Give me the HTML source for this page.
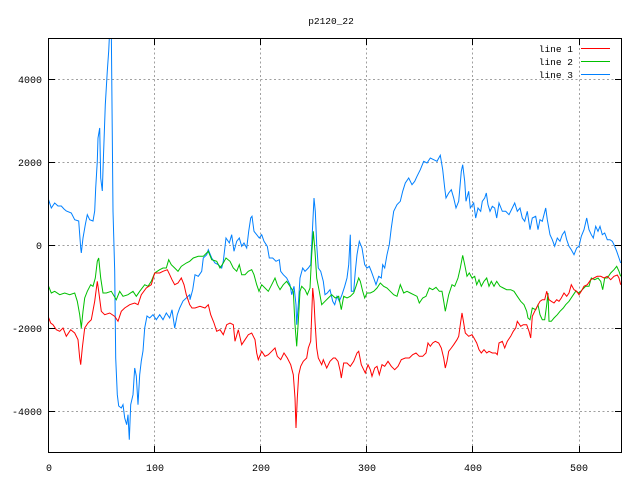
<!DOCTYPE html>
<html>
<head>
<meta charset="utf-8">
<style>
html,body{margin:0;padding:0;background:#fff;}
svg{display:block;}
text{font-family:"Liberation Mono","DejaVu Sans Mono",monospace;fill:#000;}
</style>
</head>
<body>
<svg width="640" height="480" viewBox="0 0 640 480" xmlns="http://www.w3.org/2000/svg">
<defs>
<clipPath id="pa"><rect x="48.5" y="38.5" width="573" height="414"/></clipPath>
</defs>
<rect width="640" height="480" fill="#fff"/>
<text x="331" y="24" font-size="9.5" text-anchor="middle">p2120_22</text>

<!-- grid -->
<g stroke="#a0a0a0" stroke-width="1" stroke-dasharray="2,2.5" shape-rendering="crispEdges" fill="none">
<line x1="49" y1="79.5" x2="621" y2="79.5"/>
<line x1="49" y1="162.5" x2="621" y2="162.5"/>
<line x1="49" y1="245.5" x2="621" y2="245.5"/>
<line x1="49" y1="328.5" x2="621" y2="328.5"/>
<line x1="49" y1="411.5" x2="621" y2="411.5"/>
<line x1="154.5" y1="39" x2="154.5" y2="452"/>
<line x1="260.5" y1="39" x2="260.5" y2="452"/>
<line x1="366.5" y1="39" x2="366.5" y2="452"/>
<line x1="472.5" y1="39" x2="472.5" y2="452"/>
<line x1="579.5" y1="39" x2="579.5" y2="452"/>
</g>

<!-- series -->
<g clip-path="url(#pa)" fill="none" stroke-width="1" stroke-linejoin="miter">
<polyline stroke="#0080ff" points="48,198 51.3,208 54.7,203 58,206 61.3,206 64,209 66.3,211 71.3,213 74.7,219.7 78.7,221 80.7,248 81.3,253 83,238 85.3,224.7 87.3,214.7 89.7,219.7 93,221 94.7,211 95.7,188 97.3,161 98,138 99.7,128 100.7,178 102.3,191 103.3,161 105.3,104.7 107.3,71 108.7,51 109.7,30 111.3,30 113,211 114.7,271 115.7,358 117.3,394.7 118.7,406 121.3,408 123,404.7 124.7,418 126.7,424.7 128,414.7 129.3,439.7 130.7,404.7 133,394.7 134.7,368 136.3,376 138,404.7 139.7,374.7 141.3,361 143,351 144.7,328 147,316 149.7,318 153,314.7 156.3,319.7 159.7,314.7 163,319.7 166.3,313 169.7,318 172,309.7 174.7,328 177.3,314.7 179.7,308 183,301 186.3,298 189.7,294.7 190,299.7 192.7,289.7 195,274.7 198.3,276.3 201.7,271.3 203.3,258 206.7,254.7 208.3,249.7 211.7,258 215,263 218.3,264.7 221.7,268 223.3,261.3 226,238 229.3,243 231.7,234.7 234,251.3 236.7,241.3 239.3,238 241.7,246.3 244,243 246.7,248 248.7,231.3 250.7,218 252,216.3 254,231.3 256.7,234.7 259.3,238 261.7,234.7 264,241.3 267.3,246.3 269.3,258 272.7,258 276,261.3 279.3,259.7 280.7,271.3 283.3,274.7 286.7,278 290,284.7 291.7,294.7 294,286.3 296,304.7 296.7,324.7 298.3,304.7 300,278 302.7,268 305,271.3 308.3,268 310.7,264.7 312.7,224.7 314,198 315.3,211.3 316.7,244.7 318.3,268 320.7,271.3 323.3,281.3 325,294.7 327.3,293 330,289.7 332.7,301.3 334.7,304.7 337,296.3 339.3,301.3 342,294.7 344.7,286.3 347,278 348.7,264.7 350.3,234.7 351.3,291.3 353.7,291.3 355.3,271.3 357,254.7 359.3,241.3 362,248 364.7,264.7 367,268 369.3,266.3 371.3,271.3 373.7,278 376,284.7 378.7,276.3 381.3,278 382.7,264.7 384.7,268 387,254.7 389.3,244.7 391.3,228 393.7,211.3 397,204.7 400.3,201.3 402.7,191.3 405.3,183 408.7,178 412,184.7 414.7,181.3 417,176.3 420.3,169.7 423.7,161.3 427,163 430.3,158 433.7,159.7 437,161.3 440.3,155.3 442.7,169.7 444.7,188 446,198 448.7,193 451.3,189.7 453.7,198 456,208 458.7,201.3 461.3,171.3 462.7,164.7 464.7,181.3 466,201.3 468.7,191.3 470.3,208 473.7,203 475.7,218 478,208 480.7,211.3 482.3,201.3 484.7,198 486.3,193 488,204.7 490,211.3 492.3,206.3 494.7,208 496.7,218 499,203 502.3,211.3 505.7,211.3 509,214.7 512.3,208 514.7,203 517.3,211.3 520,208 522.3,218 524.7,221.3 527.3,211.3 530,229.7 532.3,218 535.7,216.3 538,229.7 540,219.7 542.3,221.3 545.7,208 547.3,219.7 550,234.7 552.3,239.7 554.7,246.3 557.3,238 560,241.3 562.3,234.7 564.7,231.3 566.7,239.7 569,246.3 571.3,249.7 574,254.7 576.7,248 579,246.3 581.3,236.3 584,229.7 586.7,218 589,229.7 591.3,234.7 593.3,238 595.7,226.3 598,231.3 600,226.3 602.3,234.7 604.7,233 607.3,239.7 610,239.7 612.3,241.3 614,244.7 616.7,251.3 619,258 620.7,263"/>
<polyline stroke="#00c000" points="48,284.7 51.3,293 54.7,291.3 59.7,294.7 64.7,293 69.7,294.7 74.7,293 77.3,301.3 79.7,314.7 81.3,328 83,311.3 84.7,298 87.3,291.3 90.7,284.7 93,286.3 95.3,278 97.3,261.3 98.7,258 100.7,278 103,293 106.3,293 111.3,291.3 116.3,299.7 119.7,291.3 123,296.3 128,294.7 133,291.3 136.3,296.3 139.7,291.3 144.7,284.7 148,286.3 151.3,281.3 154.7,273 159.7,269.7 163,268 166.3,268 168.7,259.7 171.3,264.7 174.7,268 178,271.3 181.3,266.3 186.3,263 189.7,261.3 193.3,258 198.3,256.3 203.3,256.3 208.3,251.3 211.7,259.7 216.7,261.3 220,268 223.3,263 226,258 230,261.3 233.3,268 236.7,271.3 239.3,264.7 241.7,274.7 245,274.7 248.3,271.3 251.7,269.7 254,274.7 256.7,284.7 259,291.3 261.7,284.7 265,288 268.3,291.3 271.7,284.7 275,278 277.3,284.7 280,289.7 283.3,284.7 286.7,281.3 290,286.3 293.3,291.3 295,324.7 296.7,346.3 298.3,321.3 300,291.3 301.7,286.3 305,289.7 307.3,294.7 310,288 311.7,254.7 313.3,231.3 315,251.3 316.7,278 319.3,291.3 321.7,304.7 325,301.3 328.3,298 331.7,294.7 335.3,298 338.7,296.3 341.3,309.7 343.7,296.3 347,298 350.3,296.3 353.7,293 356,286.3 358.7,278 360.3,281.3 362.7,291.3 364.7,298 367,293 370.3,293 373.7,291.3 377,288 380.3,283 383.7,286.3 387,288 390.3,291.3 393.7,294.7 397,296.3 400.3,284.7 403.7,293 407,291.3 410.3,293 413.7,294.7 417,296.3 419.3,303 422.7,298 426,296.3 429.3,288 432.7,289.7 436,287.3 439.3,291.3 442,291.3 444,303 445.3,311.3 447,303 448.7,294.7 452,284.7 454.7,286.3 458,278 460.3,268 462.7,255.3 464.7,264.7 467,276.3 469.3,273 472,278 474.7,276.3 476.7,284.7 479,279.7 481.3,286.3 484,281.3 486.7,278 489,286.3 491.3,281.3 494,286.3 496.7,281.3 500,286.3 503.3,288 506.7,289.7 510.7,289.7 514,291.3 517.3,296.3 520.7,301.3 524,304.7 526.7,311.3 528,318 530,319.7 532.3,308 535.7,309.7 538,304.7 540,314.7 542.3,319.7 544.7,319.7 546.7,304.7 548,293 549,321.3 551.3,321.3 554,318 557.3,314.7 560,311.3 563.3,308 565.7,304.7 569,301.3 572.3,296.3 575.7,291.3 579,293 582.3,289.7 585.7,286.3 589,286.3 591.3,278 594.7,279.7 598,278 600.7,281.3 602.7,289.7 604.7,278 607.3,278 610.7,273 614,269.7 616.7,266.3 619,271.3 620.7,276.3"/>
<polyline stroke="#ff0000" points="48,316 50.7,323 53,324.7 56.3,329.7 59.7,331.3 63,328 66.3,336.3 70.7,329.7 74.7,333 78,339.7 79.7,358 80.7,364.7 82.3,348 84.7,328 88,323 91.3,319.7 94.7,301.3 97.3,281.3 98.7,291.3 101.3,311.3 104.7,314.7 109.7,313 114.7,316.3 118,321.3 121.3,311.3 124.7,308 129.7,304.7 134.7,303 138,304.7 141.3,294.7 146.3,288 151.3,284.7 154.7,273 159.7,273 163,271.3 167.3,269.7 169.7,274.7 172,279.7 174.7,284.7 178,283 181.3,278 184,284.7 186.3,294.7 189.7,304.7 192,308 195,308 200,306.3 205,308 208.3,304.7 210.7,314.7 214,323 216.7,331.3 220,329.7 223.3,334.7 226.7,324.7 230,323 233.3,324.7 235,341.3 238.3,329.7 241.7,344.7 245,339.7 248.3,334.7 251.7,333 255,339.7 256.7,353 258.3,359.7 261.7,351.3 265,356.3 268.3,354.7 271.7,351.3 275,348 277.3,356.3 280.7,359.7 284,353 287.3,358 290.7,364.7 293.3,374.7 295,398 296,428 297.3,398 298.7,374.7 300.7,366.3 303.3,361.3 306.7,358 308.3,348 310.7,341.3 312.7,288 314,301.3 315,321.3 316.7,348 318.3,358 321.7,364.7 323.3,359.7 326.7,368 330,361.3 333.3,358 335.3,358 338,361.3 340.3,371.3 341.3,378 343.7,363 347,363 350.3,366.3 353.7,361.3 357,353 358.7,351.3 361.3,364.7 363.7,369.7 365.3,373 368,364.7 370.3,369.7 372,376.3 374.7,368 377,366.3 379.3,374.7 382,364.7 384.7,366.3 388,361.3 391.3,366.3 394.7,369.7 398,366.3 401.3,359.7 405.3,358 409.3,358 412.7,354.7 416,353 419.3,356.3 422.7,356.3 426,353 428,343 430.3,346.3 432.7,343 435.3,341.3 438.7,343 441.3,348 443.7,358 445.3,368 447,361.3 448.7,351.3 451.3,348 453.7,344.7 457,339.7 458.7,336.3 460.3,324.7 462,313 463.7,323 465.3,333 468.7,336.3 472,334.7 474,338 476.7,343 479,349.7 481.3,353 484,349.7 486.7,353 489,351.3 492.3,353 495.7,353 497.3,354.7 499,343 502.3,341.3 504.7,348 507.3,341.3 510.7,336.3 513.3,331.3 515.7,328 517.3,321.3 520.7,326.3 523.3,324.7 526.7,324.7 529,331.3 530.7,338 532.3,316.3 534.7,311.3 537.3,306.3 540,301.3 542.3,299.7 544.7,299.7 546.7,291.3 549,299.7 551.3,301.3 554,303 556.7,299.7 559,301.3 561.3,298 564,293 566.7,296.3 569,293 571.3,284.7 574,289.7 576.7,291.3 579,294.7 581.3,291.3 584,286.3 587.3,284.7 590.7,279.7 594,278 597.3,276.3 600.7,276.3 604,278 607.3,276.3 610.7,279.7 614,276.3 617.3,275 619,278 620.7,284.7"/>
</g>

<!-- border and ticks -->
<g stroke="#000" stroke-width="1" fill="none" shape-rendering="crispEdges">
<rect x="48.5" y="38.5" width="573" height="414"/>
<path d="M49 79.5h6M49 162.5h6M49 245.5h6M49 328.5h6M49 411.5h6
M621 79.5h-6M621 162.5h-6M621 245.5h-6M621 328.5h-6M621 411.5h-6
M48.5 452v-6M154.5 452v-6M260.5 452v-6M366.5 452v-6M472.5 452v-6M579.5 452v-6
M154.5 39v6M260.5 39v6M366.5 39v6M472.5 39v6M579.5 39v6"/>
</g>

<!-- y labels -->
<g font-size="10" text-anchor="end">
<text x="42" y="83">4000</text>
<text x="42" y="166">2000</text>
<text x="42" y="249">0</text>
<text x="42" y="332">-2000</text>
<text x="42" y="415">-4000</text>
</g>
<!-- x labels -->
<g font-size="10" text-anchor="middle">
<text x="49" y="471">0</text>
<text x="155" y="471">100</text>
<text x="261" y="471">200</text>
<text x="367" y="471">300</text>
<text x="473" y="471">400</text>
<text x="579" y="471">500</text>
</g>

<!-- legend -->
<g font-size="9.5" text-anchor="end">
<text x="573" y="52">line 1</text>
<text x="573" y="65">line 2</text>
<text x="573" y="78">line 3</text>
</g>
<g stroke-width="1" shape-rendering="crispEdges">
<line x1="581" y1="48.5" x2="610" y2="48.5" stroke="#ff0000"/>
<line x1="581" y1="61.5" x2="610" y2="61.5" stroke="#00c000"/>
<line x1="581" y1="74.5" x2="610" y2="74.5" stroke="#0080ff"/>
</g>
</svg>
</body>
</html>
